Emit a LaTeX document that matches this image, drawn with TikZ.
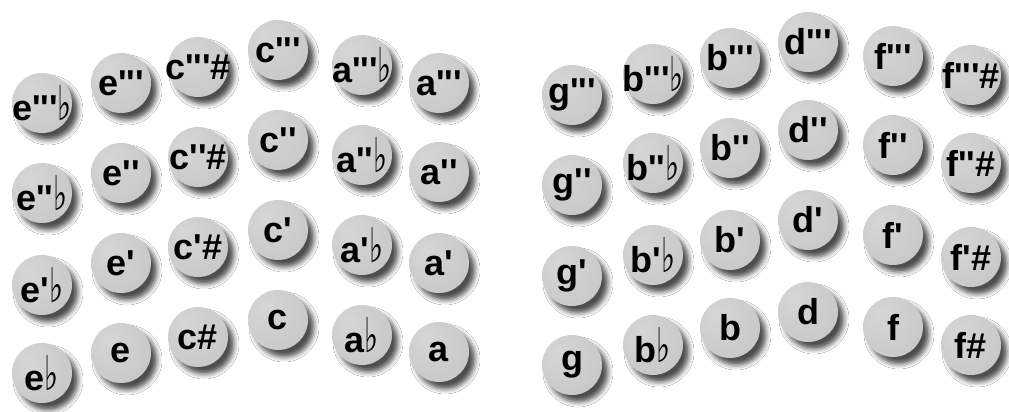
\documentclass[tikz,border=0pt]{standalone}
\usepackage{fontspec}
\usepackage{graphicx}
\setmainfont{Liberation Sans}
\newfontfamily\keyfont[Ligatures=TeXOff]{Liberation Sans}
\newfontfamily\flatfont{DejaVu Sans}
\usetikzlibrary{shadows.blur}
\definecolor{btnlight}{HTML}{D6D6D6}
\definecolor{btnhalf}{HTML}{CCCCCC}
\definecolor{btnmid}{HTML}{C1C1C1}
\definecolor{btndark}{HTML}{A4A4A4}
\pgfdeclareradialshading{btnshade}{\pgfpoint{-12bp}{12bp}}{%
  color(0bp)=(btnlight); color(25bp)=(btnhalf); color(50bp)=(btnmid);
  color(62bp)=(btndark); color(70bp)=(btndark)}
\newcommand{\flt}{\scalebox{0.62}[1]{\flatfont\mdseries\fontsize{24}{24}\selectfont ♭}}
\tikzset{
  btn/.style={circle, minimum size=30pt, inner sep=-5pt, shading=btnshade,
    blur shadow={shadow xshift=3pt, shadow yshift=-3.5pt,
      shadow blur radius=2.5pt, shadow opacity=70},
    font=\keyfont\bfseries\fontsize{18}{20}\selectfont}
}

\begin{document}
\begin{tikzpicture}[x=0.5pt,y=-0.5pt]
  \fill[white] (0,0) rectangle (1009,412);
  \useasboundingbox (0,0) rectangle (1009,412);

  % Left: e-flat, e, c-sharp, c, a-flat, a
  \foreach \n/\y/\t in {3/103/{e'''\flt}, 2/193/{e''\flt}, 1/285/{e'\flt}, 0/373/{e\flt}}
    \node[btn] (eb\n) at (42,\y) {\t};
  \foreach \n/\y/\t in {3/83/{e'''}, 2/173/{e''}, 1/263/{e'}, 0/353/{e}}
    \node[btn] (e\n) at (121,\y) {\t};
  \foreach \n/\y/\t in {3/67/{c'''\#}, 2/157/{c''\#}, 1/247/{c'\#}, 0/337/{c\#}}
    \node[btn] (cs\n) at (198,\y) {\t};
  \foreach \n/\y/\t in {3/50/{c'''}, 2/140/{c''}, 1/230/{c'}, 0/320/{c}}
    \node[btn] (c\n) at (278,\y) {\t};
  \foreach \n/\y/\t in {3/65/{a'''\flt}, 2/155/{a''\flt}, 1/245/{a'\flt}, 0/335/{a\flt}}
    \node[btn] (ab\n) at (362,\y) {\t};
  \foreach \n/\y/\t in {3/83/{a'''}, 2/172/{a''}, 1/263/{a'}, 0/352/{a}}
    \node[btn] (a\n) at (439,\y) {\t};

  % Right: g, b-flat, b, d, f, f-sharp
  \foreach \n/\y/\t in {3/95/{g'''}, 2/185/{g''}, 1/276/{g'}, 0/365/{g}}
    \node[btn] (g\n) at (572,\y) {\t};
  \foreach \n/\y/\t in {3/74/{b'''\flt}, 2/163/{b''\flt}, 1/255/{b'\flt}, 0/345/{b\flt}}
    \node[btn] (bb\n) at (653,\y) {\t};
  \foreach \n/\y/\t in {3/58/{b'''}, 2/148/{b''}, 1/240/{b'}, 0/328/{b}}
    \node[btn] (b\n) at (730,\y) {\t};
  \foreach \n/\y/\t in {3/42/{d'''}, 2/130/{d''}, 1/220/{d'}, 0/312/{d}}
    \node[btn] (d\n) at (808,\y) {\t};
  \foreach \n/\y/\t in {3/56/{f'''}, 2/145/{f''}, 1/235/{f'}, 0/327/{f}}
    \node[btn] (f\n) at (893,\y) {\t};
  \foreach \n/\y/\t in {3/75/{f'''\#}, 2/163/{f''\#}, 1/257/{f'\#}, 0/345/{f\#}}
    \node[btn] (fs\n) at (971,\y) {\t};
\end{tikzpicture}
\end{document}
